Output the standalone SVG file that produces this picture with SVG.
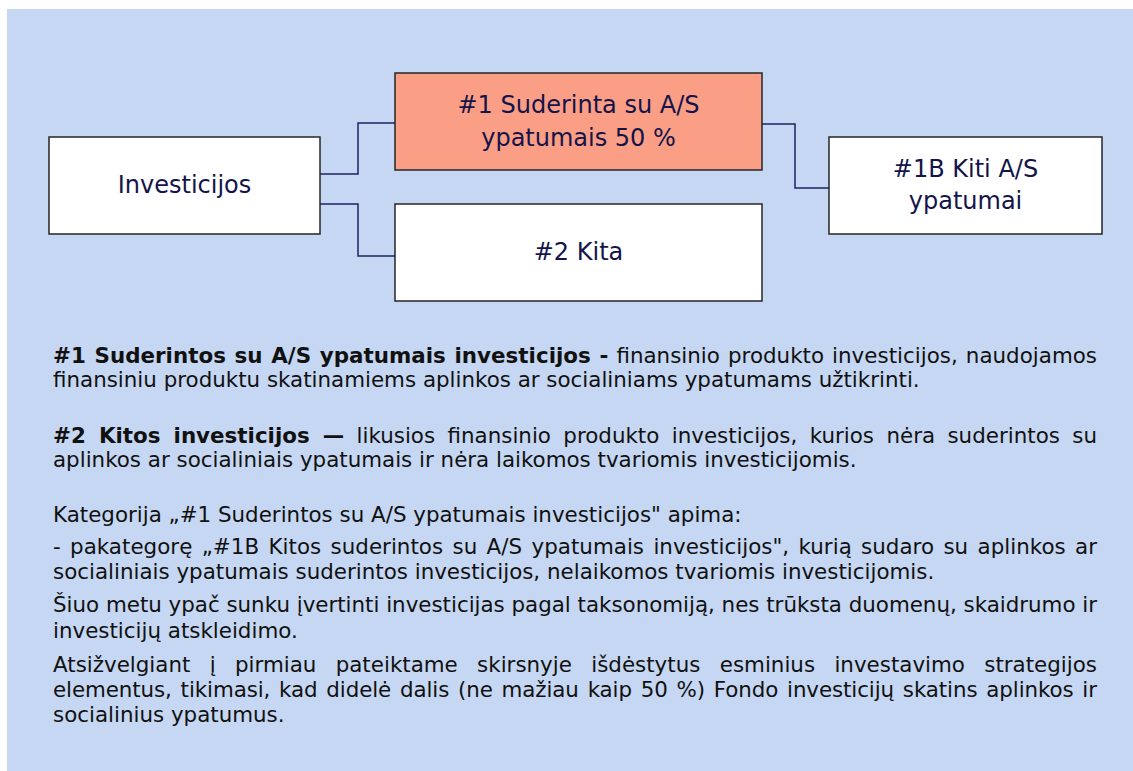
<svg xmlns="http://www.w3.org/2000/svg" width="1133" height="771" viewBox="0 0 1133 771">
<style>
.bg{fill:#C5D7F2}
.box{fill:#FFFFFF;stroke:#262626;stroke-width:1.5}
.hl{fill:#FA9E85}
.nt{font-family:"DejaVu Sans",Verdana,sans-serif;font-size:24px;fill:#14144A;text-anchor:middle}
.conn{fill:none;stroke:#1F2360;stroke-width:1.5}
.body{font-family:"DejaVu Sans",Verdana,sans-serif;font-size:21.4px;fill:#111111}
.b{font-weight:bold}
</style>
<rect class="bg" x="7" y="9" width="1126" height="762"/>
<g id="connectors">
<path class="conn" d="M320,174 H358 V123 H395"/>
<path class="conn" d="M320,204 H358 V256 H395"/>
<path class="conn" d="M762,124 H795 V188 H829"/>
</g>
<g id="node-investicijos">
<rect class="box" x="49" y="137" width="271" height="97"/>
<text class="nt" x="184.5" y="193">Investicijos</text>
</g>
<g id="node-1">
<rect class="box hl" x="395" y="73" width="367" height="97"/>
<text class="nt" x="578.5" y="113">#1 Suderinta su A/S</text>
<text class="nt" x="578.5" y="146">ypatumais 50 %</text>
</g>
<g id="node-2">
<rect class="box" x="395" y="204" width="367" height="97"/>
<text class="nt" x="578.5" y="260">#2 Kita</text>
</g>
<g id="node-1b">
<rect class="box" x="829" y="137" width="273" height="97"/>
<text class="nt" x="965.5" y="177">#1B Kiti A/S</text>
<text class="nt" x="965.5" y="209">ypatumai</text>
</g>
<g id="text">
<text class="body" x="53" y="363" word-spacing="1.2" textLength="1044" lengthAdjust="spacing"><tspan class="b">#1 Suderintos su A/S ypatumais investicijos -</tspan> finansinio produkto investicijos, naudojamos</text>
<text class="body" x="53" y="387">finansiniu produktu skatinamiems aplinkos ar socialiniams ypatumams užtikrinti.</text>
<text class="body" x="53" y="443" word-spacing="5.6" textLength="1044" lengthAdjust="spacing"><tspan class="b">#2 Kitos investicijos —</tspan> likusios finansinio produkto investicijos, kurios nėra suderintos su</text>
<text class="body" x="53" y="467">aplinkos ar socialiniais ypatumais ir nėra laikomos tvariomis investicijomis.</text>
<text class="body" x="53" y="522">Kategorija „#1 Suderintos su A/S ypatumais investicijos" apima:</text>
<text class="body" x="53" y="554" word-spacing="2.5" textLength="1044" lengthAdjust="spacing">- pakategorę „#1B Kitos suderintos su A/S ypatumais investicijos", kurią sudaro su aplinkos ar</text>
<text class="body" x="53" y="579">socialiniais ypatumais suderintos investicijos, nelaikomos tvariomis investicijomis.</text>
<text class="body" x="53" y="612" textLength="1044" lengthAdjust="spacing">Šiuo metu ypač sunku įvertinti investicijas pagal taksonomiją, nes trūksta duomenų, skaidrumo ir</text>
<text class="body" x="53" y="638">investicijų atskleidimo.</text>
<text class="body" x="53" y="672" word-spacing="12.5" textLength="1044" lengthAdjust="spacing">Atsižvelgiant į pirmiau pateiktame skirsnyje išdėstytus esminius investavimo strategijos</text>
<text class="body" x="53" y="697" word-spacing="2.1" textLength="1044" lengthAdjust="spacing">elementus, tikimasi, kad didelė dalis (ne mažiau kaip 50 %) Fondo investicijų skatins aplinkos ir</text>
<text class="body" x="53" y="722">socialinius ypatumus.</text>
</g>
</svg>
